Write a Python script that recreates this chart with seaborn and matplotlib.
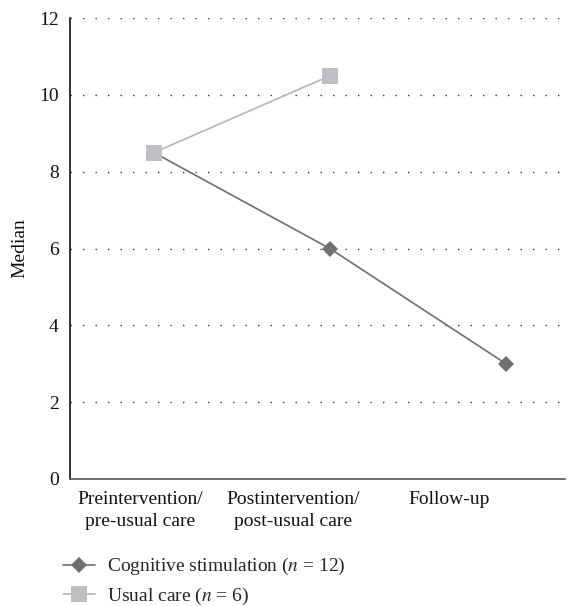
import pandas as pd
import seaborn as sns
import matplotlib.pyplot as plt
from matplotlib.transforms import ScaledTranslation

stages = ['Preintervention/\npre-usual care', 'Postintervention/\npost-usual care', 'Follow-up']
cs_median = [8.5, 6, 3]
uc_stages = ['Preintervention/\npre-usual care', 'Postintervention/\npost-usual care']
uc_median = [8.5, 10.5]
y_ticks = [0, 2, 4, 6, 8, 10, 12]

cs = pd.DataFrame({'Stage': stages, 'Median': cs_median})
uc = pd.DataFrame({'Stage': uc_stages, 'Median': uc_median})

sns.set_style('white')
plt.rcParams['font.family'] = ['Liberation Serif', 'DejaVu Serif']
plt.rcParams['mathtext.fontset'] = 'stix'

fig = plt.figure(figsize = (5.73, 6.06), dpi = 100)
ax = fig.add_axes([0.122, 0.2096, 0.864, 0.7604])

sns.lineplot(data = cs, x = 'Stage', y = 'Median', ax = ax, color = '#6e6e6e', linewidth = 1.2,
             marker = 'D', markersize = 8, markeredgewidth = 0, markerfacecolor = '#707070',
             label = 'Cognitive stimulation ($n$ = 12)')
sns.lineplot(data = uc, x = 'Stage', y = 'Median', ax = ax, color = '#b5b5b5', linewidth = 1.2,
             marker = 's', markersize = 11, markeredgewidth = 0, markerfacecolor = '#bfbfc3',
             label = 'Usual care ($n$ = 6)')

ax.set_ylim(0, 12)
ax.set_xlim(-0.477, 2.335)
ax.set_yticks(y_ticks)
ax.grid(axis = 'y', linestyle = (0, (1, 8)), color = '#333333', linewidth = 1.0)
ax.grid(axis = 'x', visible = False)
for s in ['top', 'right']:
    ax.spines[s].set_visible(False)
ax.spines['left'].set_color('#111111')
ax.spines['bottom'].set_color('#555555')
ax.spines['left'].set_linewidth(1.2)
ax.spines['bottom'].set_linewidth(1.2)
ax.tick_params(axis = 'both', length = 0, labelsize = 14, colors = '#111111', pad = 9)
ax.tick_params(axis = 'y', pad = 8)
ax.set_xlabel('')
ax.set_ylabel('Median', fontsize = 14, color = '#111111', labelpad = 8)

# shift the category labels a little left, like the original
shifts = [-14, -37, -57]
for lab, dx in zip(ax.get_xticklabels(), shifts):
    lab.set_linespacing(1.35)
    lab.set_transform(lab.get_transform() + ScaledTranslation(dx / 100, 0, fig.dpi_scale_trans))

ax.legend(loc = 'upper left', bbox_to_anchor = (0.110, 0.082), bbox_transform = fig.transFigure,
          frameon = False, fontsize = 14, handlelength = 1.65, labelspacing = 0.44,
          handletextpad = 0.6, borderpad = 0, borderaxespad = 0)

fig.savefig('out.png', dpi = 100)
